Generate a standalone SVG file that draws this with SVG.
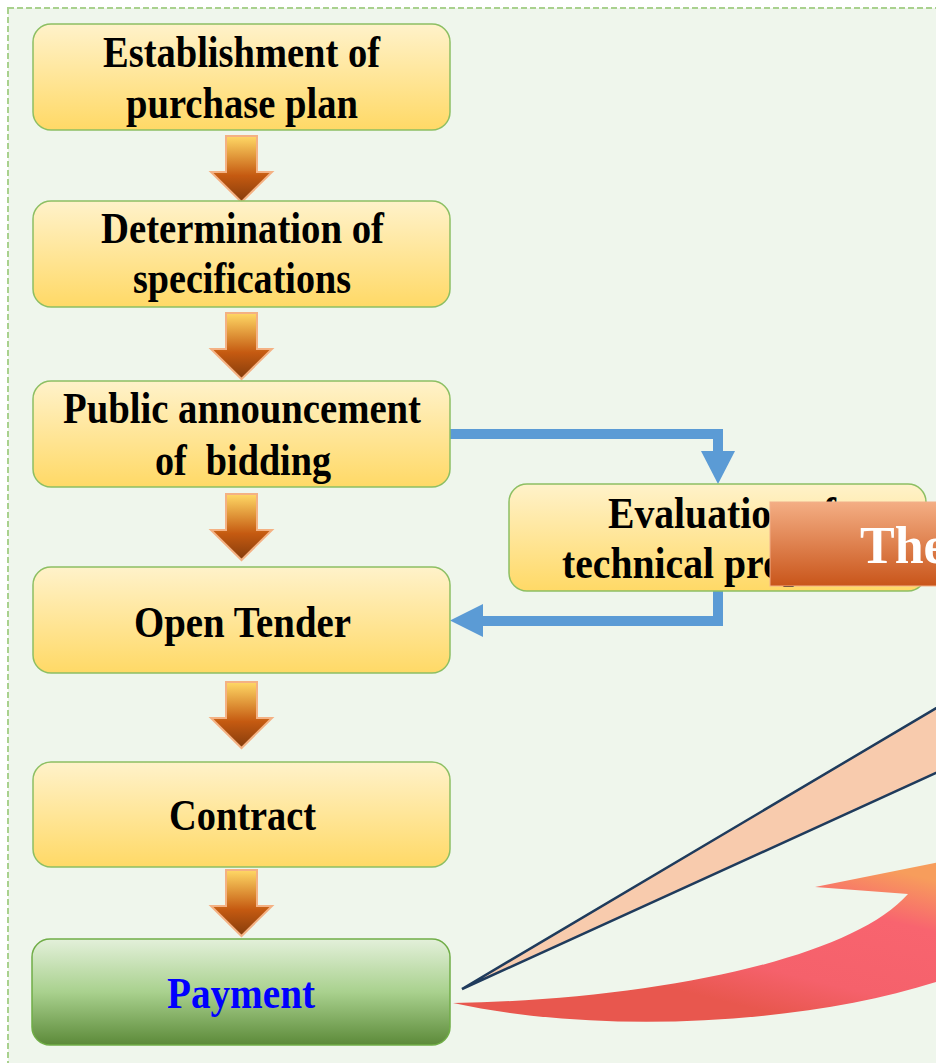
<svg xmlns="http://www.w3.org/2000/svg" width="936" height="1063" viewBox="0 0 936 1063">
<style>
.box{stroke:#8DBF63;stroke-width:1.5}
.lbl{font-family:"Liberation Serif","Times New Roman",serif;font-weight:bold;font-size:44px;fill:#000;text-anchor:middle;white-space:pre}
.flow{fill:url(#gArrow);stroke:#F4B183;stroke-width:2}
.blue{fill:none;stroke:#5B9BD5;stroke-width:10}
</style>
<defs>
<linearGradient id="gYellow" x1="0" y1="0" x2="0" y2="1">
<stop offset="0" stop-color="#FFF2CA"/><stop offset="1" stop-color="#FFD966"/>
</linearGradient>
<linearGradient id="gGreen" x1="0" y1="0" x2="0" y2="1">
<stop offset="0" stop-color="#E3F0DA"/><stop offset="0.5" stop-color="#A9D18E"/><stop offset="1" stop-color="#5C8A39"/>
</linearGradient>
<linearGradient id="gArrow" x1="0" y1="0" x2="0" y2="1">
<stop offset="0" stop-color="#FFD966"/><stop offset="0.6" stop-color="#C55A11"/><stop offset="1" stop-color="#843C0C"/>
</linearGradient>
<linearGradient id="gThe" x1="0" y1="0" x2="0" y2="1">
<stop offset="0" stop-color="#F4AE84"/><stop offset="1" stop-color="#C9551A"/>
</linearGradient>
<linearGradient id="gRed" gradientUnits="userSpaceOnUse" x1="860" y1="862" x2="820" y2="1025">
<stop offset="0" stop-color="#F79D5C"/><stop offset="0.3" stop-color="#F8646F"/><stop offset="0.75" stop-color="#F5616B"/><stop offset="1" stop-color="#E8574E"/>
</linearGradient>
<path id="downArrow" d="M-15.5 0H15.5V36H30.5L0 66L-30.5 36H-15.5Z"/>
</defs>

<rect x="0" y="0" width="936" height="1063" fill="#FFFFFF"/>
<rect x="8" y="8" width="1000" height="1100" fill="#EFF6EC" stroke="#A9D18E" stroke-width="2" stroke-dasharray="6 3"/>

<g id="connectors">
<use href="#downArrow" class="flow" x="241.5" y="136"/>
<use href="#downArrow" class="flow" x="241.5" y="313"/>
<use href="#downArrow" class="flow" x="241.5" y="494"/>
<use href="#downArrow" class="flow" x="241.5" y="682"/>
<use href="#downArrow" class="flow" x="241.5" y="870"/>
<path class="blue" d="M450 434H718V452"/>
<polygon points="701,451 735,451 718,484" fill="#5B9BD5"/>
<path class="blue" d="M718 590V621H482"/>
<polygon points="483,604 483,637 450,620.5" fill="#5B9BD5"/>
</g>

<g id="n1"><rect class="box" x="33" y="24" width="417" height="106" rx="18" fill="url(#gYellow)"/>
<text class="lbl" x="241.5" y="67" textLength="277" lengthAdjust="spacingAndGlyphs">Establishment of</text>
<text class="lbl" x="242" y="118" textLength="232" lengthAdjust="spacingAndGlyphs">purchase plan</text></g>

<g id="n2"><rect class="box" x="33" y="201" width="417" height="106" rx="18" fill="url(#gYellow)"/>
<text class="lbl" x="242.5" y="243" textLength="283" lengthAdjust="spacingAndGlyphs">Determination of</text>
<text class="lbl" x="242" y="293" textLength="218" lengthAdjust="spacingAndGlyphs">specifications</text></g>

<g id="n3"><rect class="box" x="33" y="381" width="417" height="106" rx="18" fill="url(#gYellow)"/>
<text class="lbl" x="242" y="423" textLength="358" lengthAdjust="spacingAndGlyphs">Public announcement</text>
<text class="lbl" x="243" y="475" textLength="176" lengthAdjust="spacingAndGlyphs">of  bidding</text></g>

<g id="n4"><rect class="box" x="33" y="567" width="417" height="106" rx="18" fill="url(#gYellow)"/>
<text class="lbl" x="242.5" y="637" textLength="217" lengthAdjust="spacingAndGlyphs">Open Tender</text></g>

<g id="n5"><rect class="box" x="33" y="762" width="417" height="105" rx="18" fill="url(#gYellow)"/>
<text class="lbl" x="242.5" y="830" textLength="147" lengthAdjust="spacingAndGlyphs">Contract</text></g>

<g id="n6"><rect x="32" y="939" width="418" height="106" rx="18" fill="url(#gGreen)" stroke="#70AD47" stroke-width="1.5"/>
<text class="lbl" x="241" y="1008" textLength="148" lengthAdjust="spacingAndGlyphs" style="fill:#0000FF">Payment</text></g>

<g id="n7"><rect class="box" x="509" y="484" width="417" height="107" rx="18" fill="url(#gYellow)"/>
<text class="lbl" x="722" y="528" textLength="228" lengthAdjust="spacingAndGlyphs">Evaluation of</text>
<text class="lbl" x="716.5" y="578" textLength="309" lengthAdjust="spacingAndGlyphs">technical proposal</text></g>

<g id="the"><rect x="770" y="502" width="200" height="84" fill="url(#gThe)" stroke="#F2B089" stroke-width="1"/>
<text x="860" y="563" style="font-family:'Liberation Serif','Times New Roman',serif;font-weight:bold;font-size:52px;fill:#FFFFFF">The</text></g>

<g id="wedge"><polygon points="462,989 960,694 960,762" fill="#F8CBAD" stroke="#1F3B5C" stroke-width="2.5" stroke-linejoin="miter"/></g>

<g id="redArrow"><path d="M453 1003C600 1035 800 1025 936 982L960 974V858L815 887L908 894C850 960 650 1000 453 1003Z" fill="url(#gRed)"/></g>
</svg>
